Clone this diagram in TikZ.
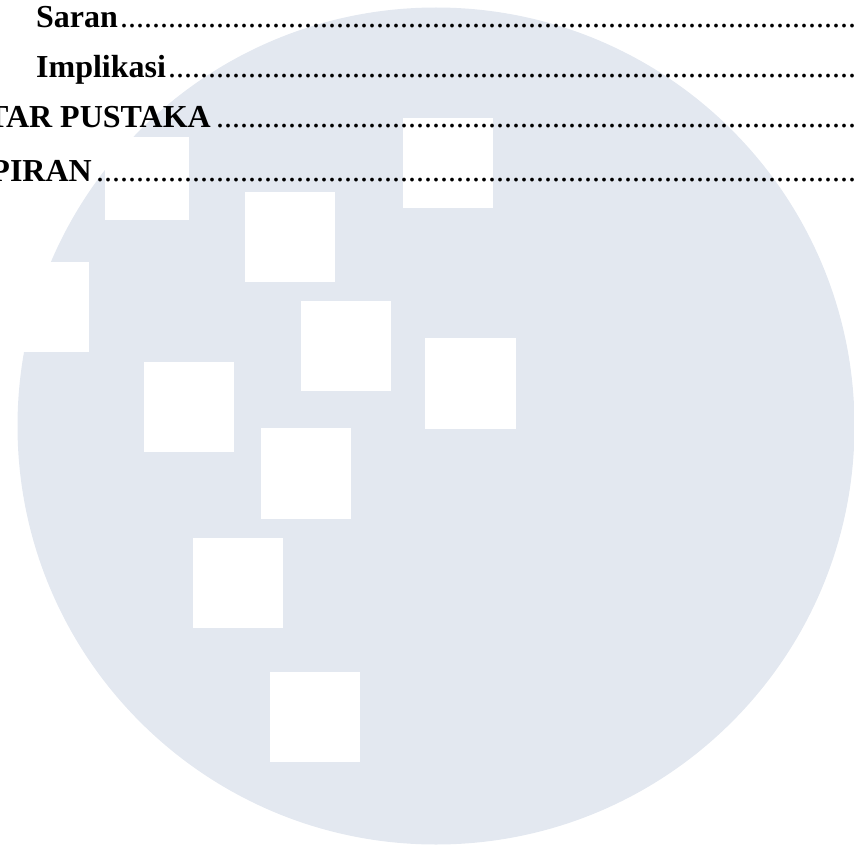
\documentclass[tikz,border=0pt]{standalone}
\usepackage{fontspec}
\setmainfont{Liberation Serif}
\definecolor{discfill}{HTML}{E3E8F0}
\tikzset{
  x=1pt,y=-1pt,
  disc/.style={fill=discfill,draw=none},
  hole/.style={fill=white,draw=none},
  entry/.style={inner sep=0pt,font=\fontsize{32}{32}\selectfont\bfseries,text=black},
  leaderrun/.style={inner sep=0pt,anchor=base west,font=\fontsize{32}{32}\selectfont,text=black}
}
\newcommand{\dotrun}[1]{\foreach \i in {1,...,#1}{.}}
\begin{document}
\begin{tikzpicture}
\useasboundingbox (0,0) rectangle (854,848);
\begin{scope}
\clip (0,0) rectangle (854,848);
\fill[disc] (436,426) circle[radius=418.5];
\fill[hole] (105,137) rectangle (189,220);
\fill[hole] (245,192) rectangle (335,282);
\fill[hole] (403,118) rectangle (493,208);
\fill[hole] (0,262) rectangle (89,352);
\fill[hole] (301,301) rectangle (391,391);
\fill[hole] (425,338) rectangle (516,429);
\fill[hole] (144,362) rectangle (234,452);
\fill[hole] (261,428) rectangle (351,519);
\fill[hole] (193,538) rectangle (283,628);
\fill[hole] (270,672) rectangle (360,762);
\node[entry,anchor=base west] (saran) at (36,28) {Saran};
\node[entry,anchor=base west] (implikasi) at (36,78) {Implikasi};
\node[entry,anchor=base east] (pustaka) at (211,128) {TAR PUSTAKA};
\node[entry,anchor=base east] (piran) at (92,181) {PIRAN};
\node[leaderrun] (d1) at (120,28) {\dotrun{92}};
\node[leaderrun] (d2) at (168,78) {\dotrun{86}};
\node[leaderrun] (d3) at (216,128) {\dotrun{80}};
\node[leaderrun] (d4) at (96,181) {\dotrun{95}};
\end{scope}
\end{tikzpicture}
\end{document}
